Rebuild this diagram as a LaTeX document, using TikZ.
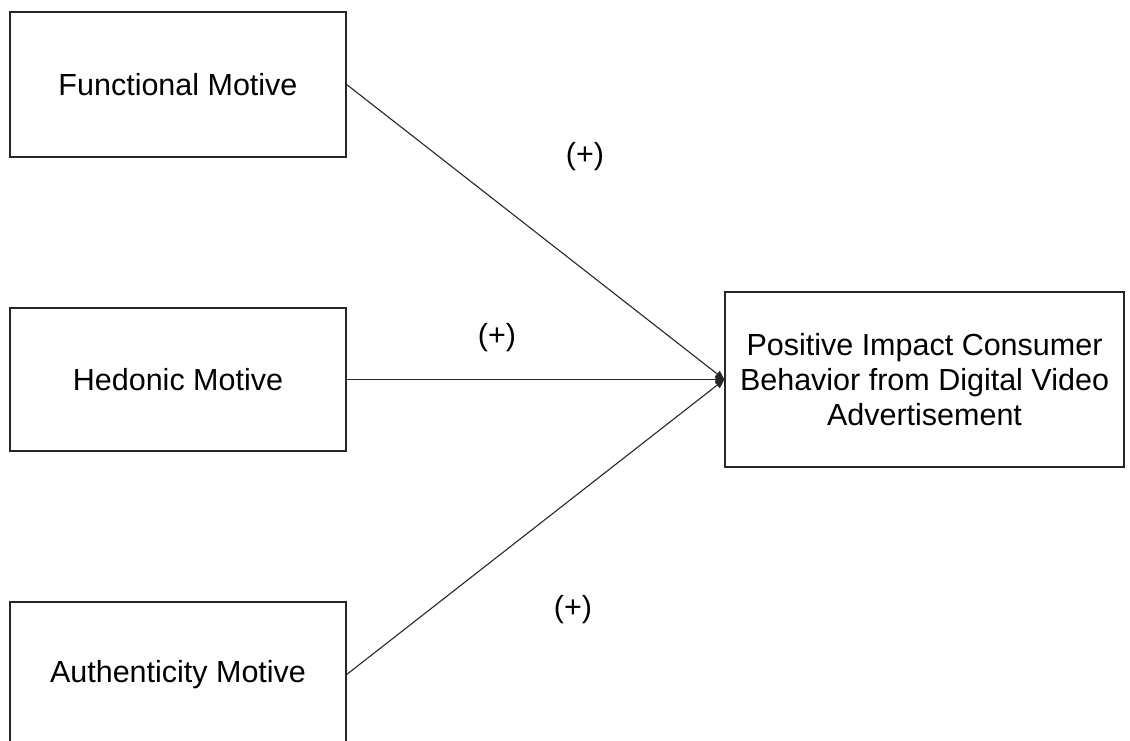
\documentclass[tikz,border=0pt]{standalone}
\usepackage{fontspec}
\setmainfont{Liberation Sans}
\usetikzlibrary{arrows.meta}

\begin{document}
\begin{tikzpicture}[x=1pt,y=-1pt,
  motivebox/.style={draw=black!85, line width=1.3pt, minimum width=336pt, minimum height=145pt, inner sep=0pt, align=center, font=\fontsize{30.5}{35}\selectfont},
  link/.style={draw=black!85, line width=1.1pt, -{Triangle[length=9pt,width=8pt]}},
  sign/.style={font=\fontsize{30.5}{35}\selectfont}]
\useasboundingbox (0,0) rectangle (1130,740);
\node[motivebox] (func) at (178,84.5) {Functional Motive};
\node[motivebox, minimum height=143pt] (hed) at (178,379.5) {Hedonic Motive};
\node[motivebox] (auth) at (178,674.5) {Authenticity Motive};
\node[motivebox, minimum width=399pt, minimum height=175pt] (impact) at (924.5,379.5) {Positive Impact Consumer\\Behavior from Digital Video\\Advertisement};
\draw[link] (func.east) -- (impact.west);
\draw[link] (hed.east) -- (impact.west);
\draw[link] (auth.east) -- (impact.west);
\node[sign] (s1) at (585,157) {(+)};
\node[sign] (s2) at (497,338) {(+)};
\node[sign] (s3) at (573,610) {(+)};
\end{tikzpicture}
\end{document}
